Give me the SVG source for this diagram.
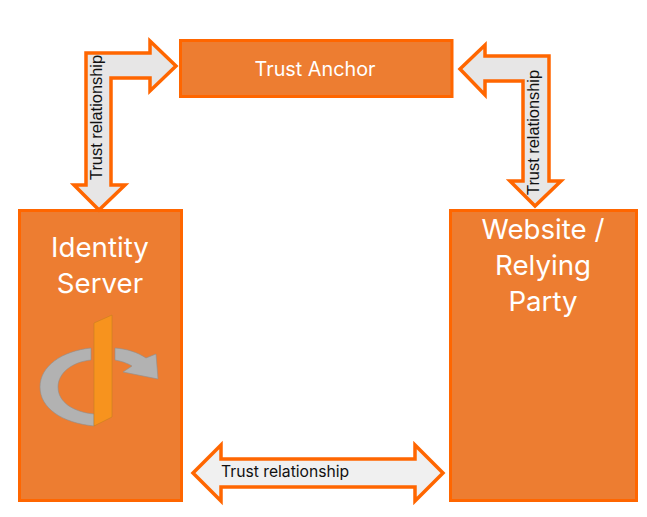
<svg xmlns="http://www.w3.org/2000/svg" width="647" height="517" viewBox="0 0 647 517">
<style>
.box{fill:#ed7d31;stroke:#ff6600;stroke-width:3}
.arrow{fill:#e7e6e6;stroke:#ff6600;stroke-width:3.500;stroke-miterlimit:10}
.t{fill:#fff;font-family:"Inter","Noto Sans",sans-serif;text-anchor:middle}
.v{fill:#111;font-family:"Liberation Sans",Arial,sans-serif;font-size:16.400px}
.logo{fill:#b2b2b2;stroke:#8f8f8f;stroke-width:.6}
</style>
<rect width="647" height="517" fill="#fff"/>
<g id="anchor"><rect class="box" x="180.500" y="40.500" width="271.500" height="56"/><text class="t" x="315" y="76" font-size="19.800">Trust Anchor</text></g>
<g id="identity"><rect class="box" x="19.500" y="210.500" width="162" height="290"/>
<text class="t" x="100" y="257" font-size="27.700">Identity</text><text class="t" x="100" y="293" font-size="27.700">Server</text>
<path class="logo" d="M91 348C62 351 40 366 40 387C40 408 62 423 94 426L94 414C73 412 58 402 58 387C58 373 72 362 91 360Z"/>
<path class="logo" d="M115 348C127 349 137 352 146 358L156 354L158 379L123 372L132 366C127 363 121 361 115 360Z"/>
<path d="M94 323L112 315L112 417L94 426Z" fill="#f7931e" stroke="#c8801f" stroke-width=".6"/></g>
<g id="website"><rect class="box" x="450.500" y="210.500" width="186" height="290"/>
<text class="t" x="543" y="239" font-size="27.700">Website /</text><text class="t" x="543" y="275" font-size="27.700">Relying</text><text class="t" x="543" y="311" font-size="27.700">Party</text></g>
<g id="connectors">
<g id="c1"><path class="arrow" d="M150 41L176 66L150 91L150 78L111 78L111 185L125 185L99 210L74 185L86 185L86 53L150 53Z"/>
<text class="v" transform="translate(102 180) rotate(-90)">Trust relationship</text></g>
<g id="c2"><path class="arrow" d="M460 69L485 45L485 56L549 56L549 181L561 181L535 206L510 181L523 181L523 81L485 81L485 95Z"/>
<text class="v" transform="translate(539 195) rotate(-90)">Trust relationship</text></g>
<g id="c3"><path class="arrow" style="fill:#f0f0f0" d="M193 473L221 445L221 459L415 459L415 445L443 473L415 501L415 487L221 487L221 501Z"/>
<text x="221" y="477" font-family="Inter, Noto Sans, sans-serif" font-size="15.700" fill="#111">Trust relationship</text></g>
</g>
</svg>
